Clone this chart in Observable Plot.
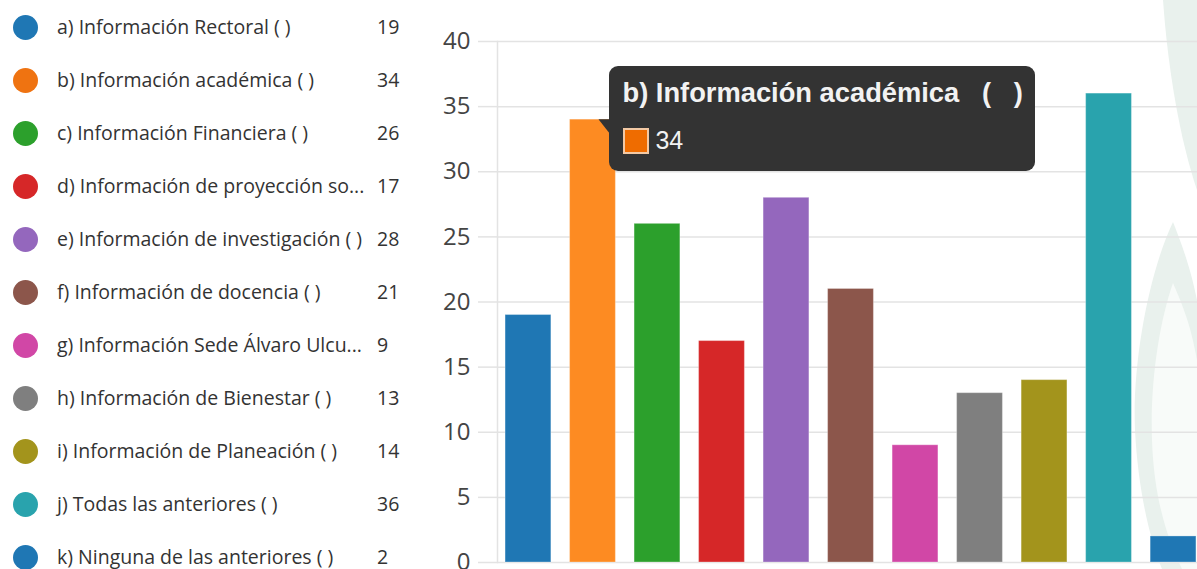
<!DOCTYPE html>
<html><head><meta charset="utf-8">
<script src="https://cdn.jsdelivr.net/npm/d3@7"></script>
<script src="https://cdn.jsdelivr.net/npm/@observablehq/plot@0.6"></script>
<style>
html,body{margin:0;padding:0;width:1197px;height:569px;overflow:hidden;background:#fff;position:relative;}
#wm{position:absolute;left:0;top:0;}
#legend{position:absolute;left:0;top:0;font-family:"Open Sans",sans-serif;font-size:19.5px;color:#333;}
.row{position:absolute;left:0;height:30px;line-height:30px;width:420px;}
.dot{position:absolute;left:13px;top:2.5px;width:25px;height:25px;border-radius:50%;}
.lab{position:absolute;left:57px;white-space:nowrap;}
.val{position:absolute;left:377px;}
#plot{position:absolute;left:400px;top:0;width:810px;height:572px;}
#plot svg{max-width:none !important;}
#tip{position:absolute;width:426px;height:105px;background:#333;border-radius:9px;color:#fff;font-family:"Liberation Sans",Arial,sans-serif;}
#arrow{position:absolute;width:11px;height:14px;background:#333;clip-path:polygon(0 0,100% 0,100% 100%);}
#tipTitle{position:absolute;left:13px;top:12px;font-weight:bold;font-size:27.3px;line-height:30px;white-space:pre;color:#f2f2f2;}
#tipSw{position:absolute;left:14px;top:62px;width:22px;height:22px;border:2px solid #f3c9a4;}
#tipVal{position:absolute;left:46px;top:59px;font-size:25px;line-height:30px;color:#f2f2f2;}
</style></head>
<body>
<svg id="wm" width="1197" height="569">
  <path d="M1163,0 C1168,70 1180,140 1197,190 L1197,0 Z" fill="#e9f1ed"/>
  <path d="M1173,222 C1150,270 1132,360 1135,430 C1138,490 1150,540 1162,569 L1197,569 L1197,300 C1190,265 1180,240 1173,222 Z" fill="#e9f1ed"/>
  <path d="M1173,283 C1160,320 1150,380 1152,440 C1154,500 1168,540 1182,569 L1197,569 L1197,360 C1190,320 1180,300 1173,283 Z" fill="#f8fbf9"/>
</svg>
<div id="legend"></div>
<div id="plot"></div>
<div id="arrow"></div>
<div id="tip"><div id="tipTitle"></div><div id="tipSw"></div><div id="tipVal"></div></div>
<script>
const categories = [
  "a) Información Rectoral ( )",
  "b) Información académica ( )",
  "c) Información Financiera ( )",
  "d) Información de proyección so...",
  "e) Información de investigación ( )",
  "f) Información de docencia ( )",
  "g) Información Sede Álvaro Ulcu...",
  "h) Información de Bienestar ( )",
  "i) Información de Planeación ( )",
  "j) Todas las anteriores ( )",
  "k) Ninguna de las anteriores ( )"
];
const values = [19, 34, 26, 17, 28, 21, 9, 13, 14, 36, 2];
const barColors = ["#1f77b4", "#fd8b22", "#2ca02c", "#d62728", "#9467bd", "#8c564b", "#d147a6", "#7f7f7f", "#a3941c", "#29a3ad", "#1f77b4"];
const legendColors = ["#1f77b4", "#ef7311", "#2ca02c", "#d62728", "#9467bd", "#8c564b", "#d147a6", "#7f7f7f", "#a3941c", "#29a3ad", "#1f77b4"];
const yTicks = [0, 5, 10, 15, 20, 25, 30, 35, 40];
const tipIndex = 1;
const tipTitleText = "b) Información académica   (   )";
const tipSwatch = "#ef6c00";

const data = categories.map((c, i) => ({cat: c, val: values[i], color: barColors[i]}));

// Legend
const legend = document.getElementById("legend");
categories.forEach((c, i) => {
  const row = document.createElement("div");
  row.className = "row";
  row.style.top = (12 + 53 * i) + "px";
  row.innerHTML = `<div class="dot" style="background:${legendColors[i]}"></div><span class="lab"></span><span class="val"></span>`;
  row.querySelector(".lab").textContent = c;
  row.querySelector(".val").textContent = values[i];
  legend.appendChild(row);
});

const chart = Plot.plot({
  width: 810, height: 572,
  marginLeft: 97, marginRight: 6, marginTop: 41, marginBottom: 10,
  style: {fontFamily: "Open Sans, sans-serif", background: "transparent", overflow: "visible", maxWidth: "none"},
  x: {domain: categories, paddingInner: 0.29, paddingOuter: 0.125, round: false, axis: null},
  y: {domain: [0, 40], axis: null},
  marks: [
    Plot.gridY(yTicks, {stroke: "#e3e3e3", strokeOpacity: 1, strokeWidth: 1.5}),
    Plot.axisY(yTicks, {tickSize: 19, tickPadding: 8, stroke: "#e3e3e3", strokeWidth: 1.5, fill: "#444", fontSize: 24, label: null}),
    Plot.frame({anchor: "left", stroke: "#e3e3e3", strokeWidth: 1.5}),
    Plot.barY(data, {x: "cat", y: "val", fill: d => d.color, stroke: "#ffffff", strokeOpacity: 0.3, strokeWidth: 1})
  ]
});
document.getElementById("plot").appendChild(chart);

// Tooltip anchored via the plot's scales
const xs = chart.scale("x"), ys = chart.scale("y");
const plotLeft = 400;
const cx = plotLeft + xs.apply(categories[tipIndex]) + xs.bandwidth / 2;
const yTop = ys.apply(values[tipIndex]);
const tip = document.getElementById("tip");
tip.style.left = (cx + 17) + "px";
tip.style.top = (yTop - 53) + "px";
const arrow = document.getElementById("arrow");
arrow.style.left = (cx + 6) + "px";
arrow.style.top = yTop + "px";
document.getElementById("tipTitle").textContent = tipTitleText;
document.getElementById("tipSw").style.background = tipSwatch;
document.getElementById("tipVal").textContent = values[tipIndex];
</script>
</body></html>
